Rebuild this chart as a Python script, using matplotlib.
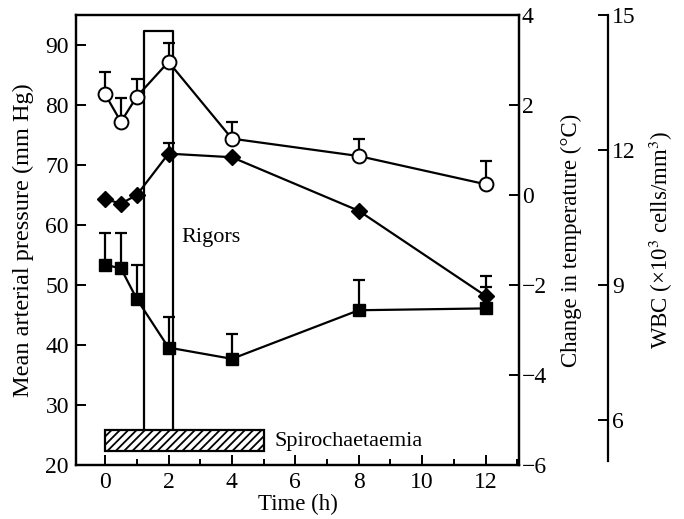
import numpy as np
import matplotlib
matplotlib.use('Agg')
import matplotlib.pyplot as plt
from matplotlib.patches import Rectangle
from matplotlib.ticker import MultipleLocator

plt.rcParams['font.family'] = ['Liberation Serif', 'DejaVu Serif']
plt.rcParams['mathtext.fontset'] = 'stix'
plt.rcParams['font.size'] = 16.5
plt.rcParams['hatch.linewidth'] = 1.3

# ---------------------------------------------------------------- data
time = [0, 0.5, 1, 2, 4, 8, 12]

# mean arterial pressure (mm Hg), open circles, left axis
map_mean = [81.8, 77.2, 81.4, 87.2, 74.4, 71.5, 66.8]
map_err = [3.7, 4.0, 3.0, 3.2, 2.8, 2.8, 3.9]

# change in temperature (deg C), diamonds
temp_change = [-0.09, -0.19, 0.0, 0.92, 0.84, -0.35, -2.24]
temp_err = [0, 0, 0, 0.24, 0, 0, 0.43]

# WBC (x10^3 cells/mm^3), squares
wbc = [9.45, 9.37, 8.69, 7.61, 7.36, 8.44, 8.48]
wbc_err = [0.70, 0.79, 0.75, 0.67, 0.55, 0.67, 0.48]

rigors_span = (1.23, 2.15)
rigors_top = 92.3
spiro_span = (0, 5)
spiro_y = (22.3, 25.8)

# ---------------------------------------------------------------- figure
fig = plt.figure(figsize=(6.84, 5.19), dpi=100)
ax = fig.add_axes([0.111, 0.104, 0.648, 0.867])
ax_t = ax.twinx()
ax_w = ax.twinx()

lw = 1.6
tick_kw = dict(direction='in', length=7, width=1.4, labelsize=17)

ax.set_xlim(-0.92, 13.06)
ax.set_ylim(20, 95)
ax_t.set_ylim(-6, 4)
ax_w.set_ylim(5, 15)

# rigors box and spirochaetaemia bar
ax.plot([rigors_span[0], rigors_span[0], rigors_span[1], rigors_span[1]],
        [spiro_y[1], rigors_top, rigors_top, spiro_y[1]], color='black', lw=lw, zorder=2)
ax.add_patch(Rectangle((spiro_span[0], spiro_y[0]), spiro_span[1] - spiro_span[0],
                       spiro_y[1] - spiro_y[0], facecolor='white', edgecolor='black',
                       hatch='////', lw=lw, zorder=3))
ax.text(2.42, 58, 'Rigors', ha='left', va='center', fontsize=16)
ax.text(5.35, 24, 'Spirochaetaemia', ha='left', va='center', fontsize=16)

# MAP
ax.errorbar(time, map_mean, yerr=[np.zeros(len(map_err)), map_err], fmt='none',
            ecolor='black', elinewidth=lw, capsize=4.5, capthick=lw, zorder=4)
ax.plot(time, map_mean, '-o', color='black', lw=lw, markersize=10,
        markerfacecolor='white', markeredgewidth=1.4, zorder=5)

# WBC
ax_w.errorbar(time, wbc, yerr=[np.zeros(len(wbc_err)), wbc_err], fmt='none',
              ecolor='black', elinewidth=lw, capsize=4.5, capthick=lw, zorder=4)
ax_w.plot(time, wbc, '-s', color='black', lw=lw, markersize=8, zorder=5)

# temperature
t_arr = np.array(time)
te = np.array(temp_err)
tc = np.array(temp_change)
m = te > 0
ax_t.errorbar(t_arr[m], tc[m], yerr=[np.zeros(m.sum()), te[m]], fmt='none',
              ecolor='black', elinewidth=lw, capsize=4.5, capthick=lw, zorder=4)
ax_t.plot(time, temp_change, '-D', color='black', lw=lw, markersize=8, zorder=6)

# ---------------------------------------------------------------- axes
ax.xaxis.set_major_locator(MultipleLocator(2))
ax.xaxis.set_minor_locator(MultipleLocator(1))
ax.yaxis.set_major_locator(MultipleLocator(10))
ax.tick_params(axis='both', which='major', pad=5, **tick_kw)
ax.tick_params(axis='x', which='minor', direction='in', length=4, width=1.4)
ax.tick_params(right=False)
ax.set_xlabel('Time (h)', labelpad=1, fontsize=16.5)
ax.set_ylabel('Mean arterial pressure (mm Hg)', labelpad=8, fontsize=17.5)

ax_t.yaxis.set_major_locator(MultipleLocator(2))
ax_t.tick_params(axis='y', pad=2, **tick_kw)
ax_t.set_ylabel('Change in temperature (\u00b0C)', labelpad=10, fontsize=16.5)

ax_w.spines['right'].set_position(('axes', 1.2))
ax_w.spines['right'].set_bounds(5.1, 15)
for s in ['top', 'left', 'bottom']:
    ax_w.spines[s].set_visible(False)
ax_w.set_yticks([6, 9, 12, 15])
ax_w.tick_params(axis='y', pad=3, **tick_kw)
ax_w.set_ylabel('WBC (\u00d710$^3$ cells/mm$^3$)', labelpad=8, fontsize=16.5)

for a in (ax, ax_t, ax_w):
    for s in a.spines.values():
        s.set_linewidth(lw)
    a.patch.set_visible(False)

fig.savefig('out.png', dpi=100)
